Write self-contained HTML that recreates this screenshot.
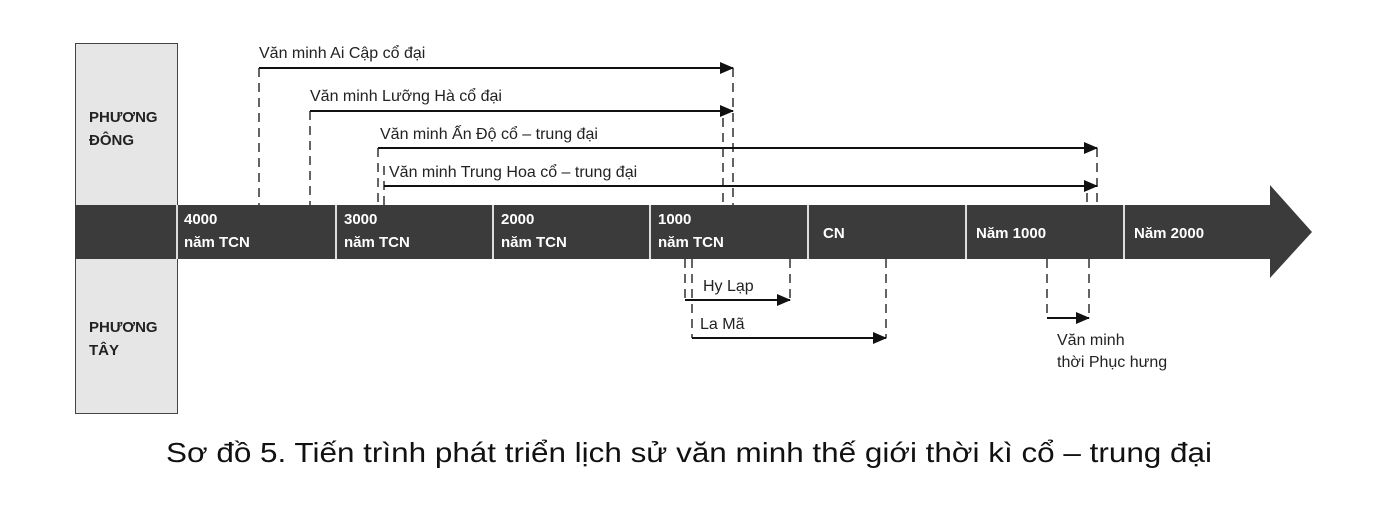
<!DOCTYPE html>
<html><head><meta charset="utf-8"><style>
html,body{margin:0;padding:0;background:#fff;}
svg{display:block;}
text{font-family:"Liberation Sans",sans-serif;}
.b{font-weight:bold;fill:#fff;font-size:15px;}
.l{font-size:16px;fill:#222;}
.h{font-weight:bold;fill:#222;font-size:15px;}
</style></head><body>
<svg width="1385" height="511" viewBox="0 0 1385 511" xmlns="http://www.w3.org/2000/svg">
<defs><marker id="a" markerWidth="14" markerHeight="12" refX="13" refY="6" orient="auto" markerUnits="userSpaceOnUse"><path d="M0,0 L14,6 L0,12 Z" fill="#111"/></marker></defs>
<rect x="75.5" y="43.5" width="102" height="370" fill="#e6e6e6" stroke="#444" stroke-width="1"/>
<polygon points="75,205 1270,205 1270,185 1312,232 1270,278 1270,259 75,259" fill="#3b3b3b"/>
<g stroke="#ddd" stroke-width="2">
<line x1="177" y1="205" x2="177" y2="259"/><line x1="336" y1="205" x2="336" y2="259"/><line x1="493" y1="205" x2="493" y2="259"/><line x1="650" y1="205" x2="650" y2="259"/><line x1="808" y1="205" x2="808" y2="259"/><line x1="966" y1="205" x2="966" y2="259"/><line x1="1124" y1="205" x2="1124" y2="259"/>
</g>
<text class="h" x="89" y="122">PHƯƠNG</text><text class="h" x="89" y="145">ĐÔNG</text>
<text class="h" x="89" y="332">PHƯƠNG</text><text class="h" x="89" y="355">TÂY</text>
<text class="b" x="184" y="224">4000</text><text class="b" x="184" y="247">năm TCN</text>
<text class="b" x="344" y="224">3000</text><text class="b" x="344" y="247">năm TCN</text>
<text class="b" x="501" y="224">2000</text><text class="b" x="501" y="247">năm TCN</text>
<text class="b" x="658" y="224">1000</text><text class="b" x="658" y="247">năm TCN</text>
<text class="b" x="823" y="238">CN</text>
<text class="b" x="976" y="238">Năm 1000</text>
<text class="b" x="1134" y="238">Năm 2000</text>
<g stroke="#111" stroke-width="1.3" stroke-dasharray="9,6" fill="none">
<line x1="259" y1="68" x2="259" y2="205"/><line x1="733" y1="68" x2="733" y2="205"/>
<line x1="310" y1="111" x2="310" y2="205"/><line x1="723" y1="118" x2="723" y2="205"/>
<line x1="378" y1="148" x2="378" y2="205"/><line x1="384" y1="166" x2="384" y2="205"/>
<line x1="1097" y1="148" x2="1097" y2="205"/><line x1="1087" y1="193" x2="1087" y2="205"/>
<line x1="685" y1="259" x2="685" y2="300"/><line x1="790" y1="259" x2="790" y2="300"/>
<line x1="692" y1="259" x2="692" y2="338"/><line x1="886" y1="259" x2="886" y2="338"/>
<line x1="1047" y1="259" x2="1047" y2="318"/><line x1="1089" y1="259" x2="1089" y2="318"/>
</g>
<g stroke="#111" stroke-width="2" marker-end="url(#a)">
<line x1="259" y1="68" x2="733" y2="68"/>
<line x1="310" y1="111" x2="733" y2="111"/>
<line x1="378" y1="148" x2="1097" y2="148"/>
<line x1="384" y1="186" x2="1097" y2="186"/>
<line x1="685" y1="300" x2="790" y2="300"/>
<line x1="692" y1="338" x2="886" y2="338"/>
<line x1="1047" y1="318" x2="1089" y2="318"/>
</g>
<text class="l" x="259" y="58">Văn minh Ai Cập cổ đại</text>
<text class="l" x="310" y="101">Văn minh Lưỡng Hà cổ đại</text>
<text class="l" x="380" y="139">Văn minh Ấn Độ cổ – trung đại</text>
<text class="l" x="389" y="177">Văn minh Trung Hoa cổ – trung đại</text>
<text class="l" x="703" y="291">Hy Lạp</text>
<text class="l" x="700" y="329">La Mã</text>
<text class="l" x="1057" y="345">Văn minh</text>
<text class="l" x="1057" y="367">thời Phục hưng</text>
<text x="166" y="462" textLength="1046" lengthAdjust="spacingAndGlyphs" style="font-size:28px;fill:#111">Sơ đồ 5. Tiến trình phát triển lịch sử văn minh thế giới thời kì cổ – trung đại</text>
</svg>
</body></html>
